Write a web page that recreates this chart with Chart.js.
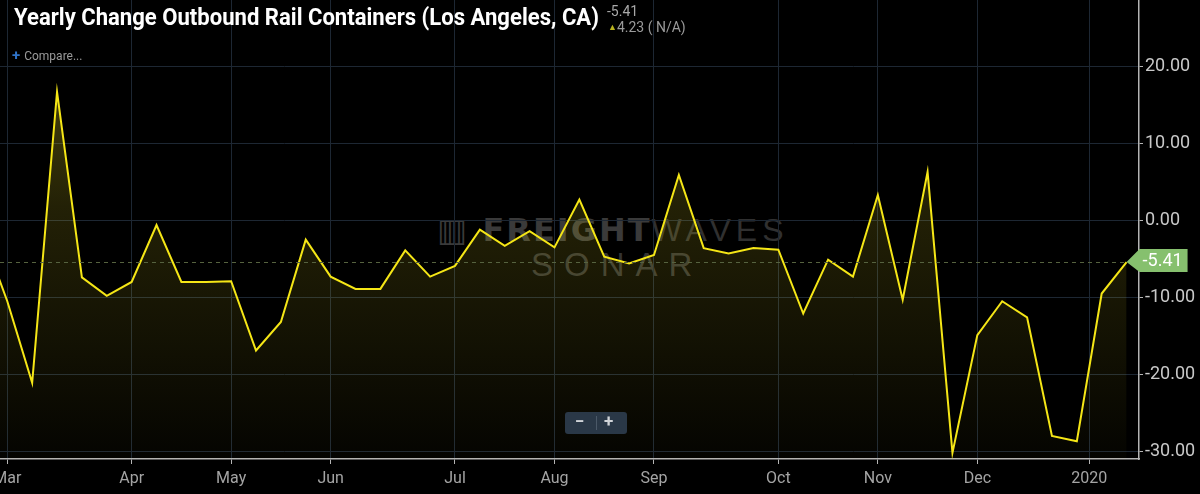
<!DOCTYPE html>
<html>
<head>
<meta charset="utf-8">
<script src="https://cdn.jsdelivr.net/npm/chart.js@4.4.1/dist/chart.umd.min.js"></script>
<style>
  html, body { margin: 0; padding: 0; background: #000; overflow: hidden; }
  #wrap { position: relative; width: 1200px; height: 494px; }
  #chart { position: absolute; left: 0; top: 0; }
  .abs { position: absolute; white-space: nowrap; }
  #title { left: 14px; top: 3px; font: bold 24px Roboto, sans-serif; color: #fff; transform-origin: 0 0; }
  #last { left: 607px; top: 3px; font: 14px Roboto, sans-serif; color: #a8a8a8; }
  #chg { left: 608px; top: 19px; font: 14px Roboto, sans-serif; color: #9a9a9a; }
  #chg .up { color: #b8b21e; font-size: 9px; vertical-align: 2px; }
  #compare { left: 12px; top: 46px; font: 12px Roboto, sans-serif; color: #9a9a9a; }
  #compare b { color: #2f73c8; font-size: 15px; margin-right: 4px; }
  #wm1 { left: 437px; top: 211px; font: 900 32px "DejaVu Sans", sans-serif; color: #3a3a3a; letter-spacing: 2px; }
  #wm1 span { font-weight: 200; font-family: "Liberation Sans", sans-serif; color: #303030; letter-spacing: 5px; }
  #wm2 { left: 531px; top: 246px; font: 200 33px "Liberation Sans", sans-serif; color: #333; letter-spacing: 11px; }
  #zoomctl { left: 565px; top: 412px; width: 62px; height: 22px; background: #2a3847; border-radius: 3px;
             color: #d0d4d8; font: bold 17px Roboto, sans-serif; }
  #zoomctl .m { position: absolute; left: 10px; top: -1px; }
  #zoomctl .sep { position: absolute; left: 31px; top: 4px; width: 1px; height: 14px; background: #4b5968; }
  #zoomctl .p { position: absolute; left: 39px; top: -1px; }
</style>
</head>
<body>
<div id="wrap">
  <div id="wm1" class="abs">▥ FREIGHT<span>WAVES</span></div>
  <div id="wm2" class="abs">SONAR</div>
  <canvas id="chart" width="1200" height="494"></canvas>
  <div id="title" class="abs">Yearly Change Outbound Rail Containers (Los Angeles, CA)</div>
  <div id="last" class="abs">-5.41</div>
  <div id="chg" class="abs"><span class="up">▲</span>4.23 ( N/A)</div>
  <div id="compare" class="abs"><b>+</b>Compare...</div>
  <div id="zoomctl" class="abs"><span class="m">−</span><span class="sep"></span><span class="p">+</span></div>
</div>
<script>
// weekly yearly-change values, first one sits just left of the visible range
const values = [-1.7, -10.5, -21.1, 16.7, -7.4, -9.8, -8.0, -0.6, -8.0, -8.0,
  -7.9, -16.9, -13.2, -2.5, -7.3, -8.9, -8.9, -3.9, -7.3, -5.9,
  -1.2, -3.3, -1.4, -3.5, 2.7, -4.7, -5.6, -4.5, 5.9, -3.6,
  -4.3, -3.6, -3.8, -12.1, -5.1, -7.3, 3.3, -10.3, 6.3, -30.2,
  -14.9, -10.5, -12.6, -28.0, -28.7, -9.5, -5.41];
const tickWeeks = [0, 5, 9, 13, 18, 22, 26, 31, 35, 39, 43.5];
const tickLabels = ["Mar", "Apr", "May", "Jun", "Jul", "Aug", "Sep", "Oct", "Nov", "Dec", "2020"];
const yTicks = [-30, -20, -10, 0, 10, 20];

const points = values.map((v, i) => ({ x: i - 1, y: v }));
const lastVal = values[values.length - 1];

// squeeze the title to the condensed width of the original
const title = document.getElementById("title");
title.style.transform = "scaleX(" + (585 / title.offsetWidth) + ")";

const lastTag = {
  id: "lastTag",
  afterDraw(chart) {
    const { ctx, chartArea, scales } = chart;
    const px = scales.x.getPixelForValue(values.length - 2);
    const py = scales.y.getPixelForValue(lastVal);
    ctx.save();
    ctx.strokeStyle = "#56623f";
    ctx.lineWidth = 1;
    ctx.setLineDash([4, 4]);
    ctx.beginPath();
    ctx.moveTo(chartArea.left, Math.round(py) + 0.5);
    ctx.lineTo(px, Math.round(py) + 0.5);
    ctx.stroke();
    ctx.setLineDash([]);
    ctx.fillStyle = "#86c06e";
    ctx.beginPath();
    ctx.moveTo(px, py);
    ctx.lineTo(px + 13, py - 13);
    ctx.lineTo(px + 61, py - 13);
    ctx.lineTo(px + 61, py + 10);
    ctx.lineTo(px + 13, py + 10);
    ctx.closePath();
    ctx.fill();
    ctx.fillStyle = "#fff";
    ctx.font = "18px Roboto";
    ctx.textBaseline = "middle";
    ctx.fillText(lastVal.toFixed(2), px + 16, py - 1);
    ctx.restore();
  }
};

new Chart(document.getElementById("chart"), {
  type: "line",
  data: {
    datasets: [{
      data: points,
      borderColor: "#f5e616",
      borderWidth: 2,
      pointRadius: 0,
      tension: 0,
      fill: "start",
      backgroundColor: (c) => {
        const area = c.chart.chartArea;
        if (!area) return "rgba(0,0,0,0)";
        const g = c.chart.ctx.createLinearGradient(0, area.top, 0, area.bottom);
        g.addColorStop(0, "rgba(235,220,40,0.38)");
        g.addColorStop(0.45, "rgba(235,220,40,0.15)");
        g.addColorStop(1, "rgba(235,220,40,0.02)");
        return g;
      }
    }]
  },
  options: {
    responsive: false,
    animation: false,
    devicePixelRatio: 1,
    layout: { padding: 0 },
    plugins: { legend: { display: false }, tooltip: { enabled: false } },
    scales: {
      x: {
        type: "linear",
        min: -0.293,
        max: 45.5,
        afterBuildTicks: (s) => { s.ticks = tickWeeks.map(v => ({ value: v })); },
        afterFit: (s) => { s.height = 35; s.paddingLeft = 0; s.paddingRight = 0; },
        ticks: {
          autoSkip: false,
          maxRotation: 0,
          padding: 5,
          color: "#a4a4a4",
          font: { family: "Roboto", size: 16 },
          callback: (v, i) => tickLabels[i]
        },
        grid: { color: "#1d2733", tickColor: "#b4b4b4", tickLength: 5, drawOnChartArea: true },
        border: { color: "#b4b4b4", width: 1.5 }
      },
      y: {
        position: "right",
        min: -31.0,
        max: 28.64,
        afterBuildTicks: (s) => { s.ticks = yTicks.map(v => ({ value: v })); },
        afterFit: (s) => { s.width = 61; s.paddingTop = 0; s.paddingBottom = 0; },
        ticks: {
          padding: 2,
          color: "#c8c8c8",
          font: { family: "Roboto", size: 18 },
          callback: (v) => v.toFixed(2)
        },
        grid: { color: "#1d2733", tickColor: "#b4b4b4", tickLength: 4 },
        border: { color: "#b4b4b4", width: 1.5 }
      }
    }
  },
  plugins: [lastTag]
});
</script>
</body>
</html>
